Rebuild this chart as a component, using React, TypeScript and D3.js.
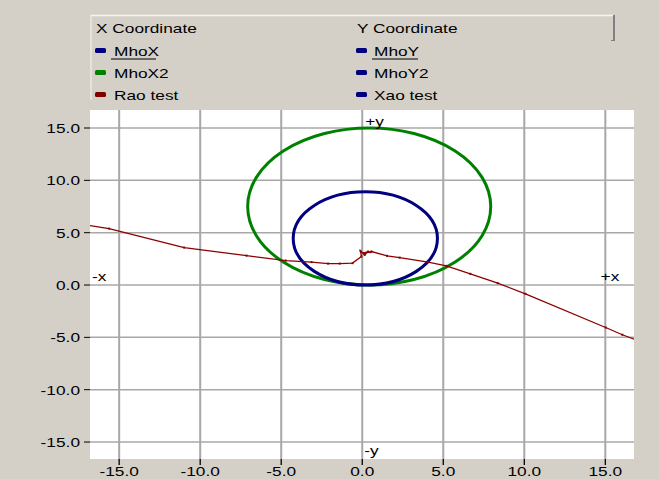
import React from 'react';
import * as d3 from 'd3';

// 軸の目盛り
const xTicks = [-15, -10, -5, 0, 5, 10, 15];
const yTicks = [15, 10, 5, 0, -5, -10, -15];

// Mho 円 (中心と半径)
const circleNames = ['MhoX2', 'MhoX'];
const circleCx = [0.43, 0.19];
const circleCy = [7.5, 4.45];
const circleR = [7.5, 4.45];
const circleColors = ['#008000', '#000080'];

// Rao test の軌跡
const raoX = [-17.5, -15.62, -10.99, -7.14, -4.72, -3.13, -2.11, -1.39, -0.6, -0.05, -0.11, 0.15, 0.36, 0.08, 0.5, 0.57, 1.53, 2.31, 4.06, 5.19, 6.67, 8.36, 10.07, 15.02, 16.05, 17.5];
const raoY = [5.85, 5.39, 3.58, 2.81, 2.34, 2.19, 2.05, 2.05, 2.09, 2.72, 3.26, 2.88, 3.2, 3.05, 3.14, 3.2, 2.79, 2.62, 2.19, 1.83, 1.07, 0.18, -0.84, -4.06, -4.75, -5.6];

// 凡例
const legendLeft = ['MhoX', 'MhoX2', 'Rao test'];
const legendLeftColors = ['#000080', '#008000', '#800000'];
const legendRight = ['MhoY', 'MhoY2', 'Xao test'];
const legendRightColors = ['#000080', '#000080', '#000080'];

const W = 659;
const H = 479;
const FONT = '"Liberation Sans", Arial, sans-serif';
const STRETCH = 1.33; // 元画像は横に引き伸ばされている

const SText = ({ x, y, anchor = 'start', size = 13, children }: any) => (
  <text
    transform={`translate(${x},${y}) scale(${STRETCH},1)`}
    textAnchor={anchor}
    fontFamily={FONT}
    fontSize={size}
    fill="#000"
  >
    {children}
  </text>
);

export default function App() {
  const plot = { left: 90, right: 634, top: 110, bottom: 459 };
  const x = d3.scaleLinear().domain([-16.8, 16.77]).range([plot.left, plot.right]);
  const y = d3.scaleLinear().domain([-16.62, 16.72]).range([plot.bottom, plot.top]);
  const fmt = (t: number) => d3.format('.1f')(t).replace('\u2212', '-');

  const raoPts: [number, number][] = raoX.map((v, i) => [v, raoY[i]]);
  const line = d3.line<[number, number]>().x(d => x(d[0])).y(d => y(d[1]));

  const rowY = [50.5, 72.5, 94.5];

  return (
    <svg width={W} height={H} style={{ position: 'absolute', left: 0, top: 0, display: 'block' }}>
      <rect x={0} y={0} width={W} height={H} fill="#d4d0c8" />

      {/* 凡例ヘッダー */}
      <line x1={91} y1={15.5} x2={613} y2={15.5} stroke="#f4f4f4" strokeWidth={1.5} />
      <line x1={91} y1={15} x2={91} y2={100} stroke="#f4f4f4" strokeWidth={1} />
      <line x1={614} y1={15} x2={614} y2={41} stroke="#808080" strokeWidth={2} />
      <line x1={611} y1={40.5} x2={615} y2={40.5} stroke="#808080" strokeWidth={1} />
      <SText x={96} y={33}>X Coordinate</SText>
      <SText x={357} y={33}>Y Coordinate</SText>

      {legendLeft.map((name, i) => (
        <g key={name}>
          <rect x={95} y={rowY[i] - 2.5} width={11} height={5} rx={1.5} fill={legendLeftColors[i]} />
          <SText x={114} y={rowY[i] + 5}>{name}</SText>
        </g>
      ))}
      {legendRight.map((name, i) => (
        <g key={name}>
          <rect x={356} y={rowY[i] - 2.5} width={11} height={5} rx={1.5} fill={legendRightColors[i]} />
          <SText x={374} y={rowY[i] + 5}>{name}</SText>
        </g>
      ))}
      <line x1={111} y1={59} x2={156} y2={59} stroke="#000" strokeWidth={1} />
      <line x1={372} y1={59} x2={418} y2={59} stroke="#000" strokeWidth={1} />

      {/* プロット領域 */}
      <defs>
        <clipPath id="plotClip">
          <rect x={plot.left} y={plot.top} width={plot.right - plot.left} height={plot.bottom - plot.top} />
        </clipPath>
      </defs>
      <rect x={plot.left} y={plot.top} width={plot.right - plot.left} height={plot.bottom - plot.top} fill="#fff" />

      {/* グリッド */}
      {xTicks.map(t => (
        <g key={'xg' + t}>
          <line x1={x(t)} y1={plot.top} x2={x(t)} y2={plot.bottom} stroke="#a8a8a8" strokeWidth={2} />
          <line x1={x(t)} y1={plot.bottom} x2={x(t)} y2={plot.bottom + 6} stroke="#000" strokeWidth={1.3} />
          <SText x={x(t)} y={plot.bottom + 17} anchor="middle">{fmt(t)}</SText>
        </g>
      ))}
      {yTicks.map(t => (
        <g key={'yg' + t}>
          <line x1={plot.left} y1={y(t)} x2={plot.right} y2={y(t)} stroke="#a8a8a8" strokeWidth={1.5} />
          <line x1={plot.left - 6} y1={y(t)} x2={plot.left} y2={y(t)} stroke="#000" strokeWidth={1} />
          <SText x={80} y={y(t) + 5} anchor="end">{fmt(t)}</SText>
        </g>
      ))}

      <g clipPath="url(#plotClip)">
        {circleNames.map((name, i) => (
          <ellipse
            key={name}
            cx={x(circleCx[i])}
            cy={y(circleCy[i])}
            rx={x(circleR[i]) - x(0)}
            ry={y(0) - y(circleR[i])}
            fill="none"
            stroke={circleColors[i]}
            strokeWidth={3}
          />
        ))}
        <path d={line(raoPts) || ''} fill="none" stroke="#8b0000" strokeWidth={1.3} />
        {raoPts.slice(1, -1).map((d, i) => (
          <rect key={i} x={x(d[0]) - 1} y={y(d[1]) - 1} width={2} height={2} fill="#8b0000" />
        ))}
      </g>

      {/* 軸ラベル */}
      <SText x={x(0) + 3} y={plot.top + 16}>+y</SText>
      <SText x={x(0) + 2} y={plot.bottom - 4}>-y</SText>
      <SText x={plot.left + 2} y={y(0) - 4}>-x</SText>
      <SText x={x(15) + 14} y={y(0) - 4} anchor="end">+x</SText>
    </svg>
  );
}
